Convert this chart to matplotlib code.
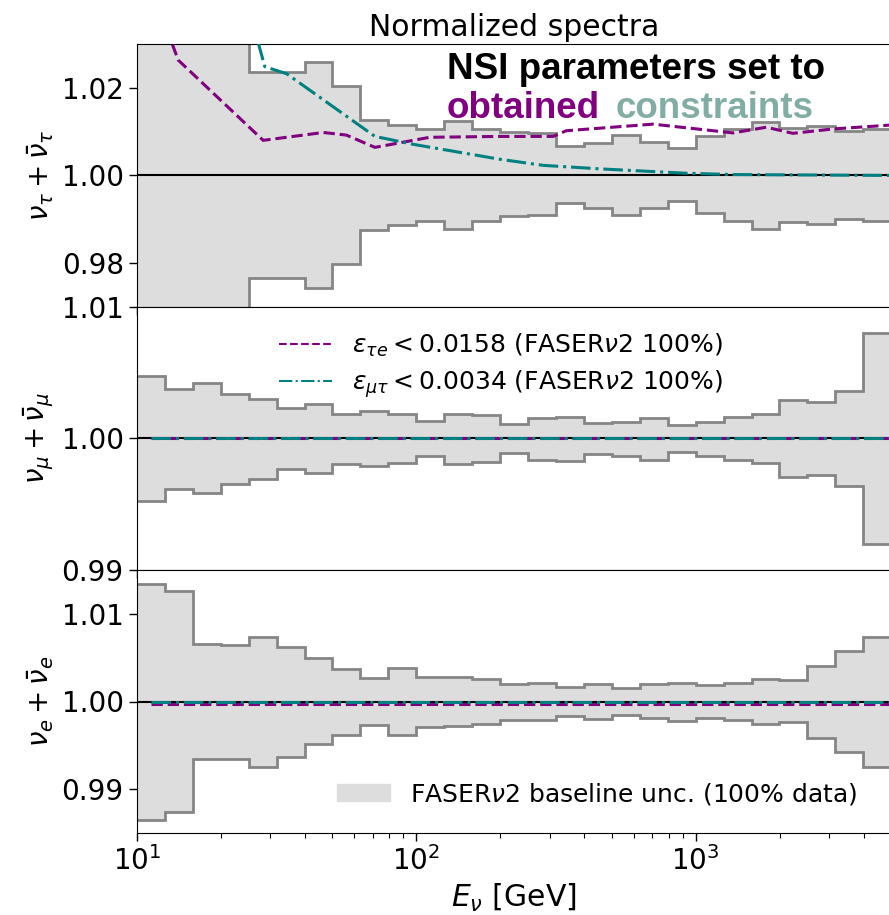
import numpy as np
import matplotlib
matplotlib.use("Agg")
import matplotlib.pyplot as plt
from matplotlib.lines import Line2D
from matplotlib.patches import Patch

# ---------------- data ----------------
bin_edges_log10 = np.round(np.arange(1.0, 3.70001, 0.1), 2)   # 27 bins, 10 GeV .. ~5 TeV

tau_upper = [1.060, 1.052, 1.046, 1.040, 1.0236, 1.0235, 1.0259, 1.0204, 1.0127, 1.0115,
             1.0107, 1.0125, 1.0107, 1.0098, 1.0096, 1.0067, 1.0075, 1.0092, 1.0077, 1.0063,
             1.0089, 1.0106, 1.0123, 1.0109, 1.0112, 1.0101, 1.0107]
tau_lower = [0.940, 0.948, 0.955, 0.962, 0.9767, 0.9765, 0.9744, 0.9799, 0.9876, 0.9887,
             0.9897, 0.9878, 0.9897, 0.9907, 0.9909, 0.9937, 0.9926, 0.9910, 0.9926, 0.9941,
             0.9914, 0.9897, 0.9877, 0.9894, 0.9890, 0.9900, 0.9897]

mu_upper = [1.00473, 1.00379, 1.00418, 1.00341, 1.00303, 1.00232, 1.00265, 1.00189, 1.00206,
            1.00189, 1.00132, 1.00189, 1.00176, 1.00112, 1.00158, 1.00163, 1.00117, 1.00125,
            1.00158, 1.00099, 1.00127, 1.00163, 1.00183, 1.00295, 1.00277, 1.00361, 1.00799]
mu_lower = [0.99527, 0.99616, 0.99583, 0.99654, 0.99692, 0.99768, 0.99735, 0.99807, 0.99794,
            0.99814, 0.99865, 0.99807, 0.99819, 0.99888, 0.99840, 0.99832, 0.99883, 0.99870,
            0.99840, 0.99896, 0.99870, 0.99840, 0.99812, 0.99705, 0.99725, 0.99641, 0.99201]

e_upper = [1.01341, 1.01264, 1.00657, 1.00646, 1.00740, 1.00626, 1.00493, 1.00372, 1.00270,
           1.00383, 1.00285, 1.00280, 1.00258, 1.00205, 1.00213, 1.00163, 1.00201, 1.00156,
           1.00194, 1.00213, 1.00190, 1.00216, 1.00258, 1.00247, 1.00410, 1.00573, 1.00740]
e_lower = [0.98653, 0.98740, 0.99339, 0.99347, 0.99252, 0.99366, 0.99510, 0.99620, 0.99727,
           0.99613, 0.99708, 0.99715, 0.99746, 0.99791, 0.99787, 0.99829, 0.99795, 0.99841,
           0.99810, 0.99776, 0.99810, 0.99787, 0.99738, 0.99765, 0.99587, 0.99423, 0.99252]

# NSI curves, nu_tau panel (x given as log10(E/GeV))
taue_tau_logE = [1.0, 1.10, 1.148, 1.452, 1.667, 1.750, 1.852, 2.048, 2.298, 2.490, 2.537,
                 2.847, 3.134, 3.253, 3.348, 3.491, 3.70]
taue_tau_val = [1.052, 1.0345, 1.0263, 1.0080, 1.0098, 1.0092, 1.0064, 1.0087, 1.0089, 1.0089,
                1.0102, 1.0117, 1.0097, 1.0110, 1.0096, 1.0106, 1.0115]
mutau_tau_logE = [1.40, 1.434, 1.458, 1.536, 1.852, 1.989, 2.298, 2.454, 2.657, 2.967, 3.134, 3.70]
mutau_tau_val = [1.0377, 1.0303, 1.0248, 1.0232, 1.0089, 1.0071, 1.0037, 1.0023, 1.0015,
                 1.0005, 1.0002, 1.0000]

# NSI curves in nu_mu and nu_e panels (flat)
flat_logE = [1.05, 3.70]
taue_mu_val = [1.0000, 1.0000]
mutau_mu_val = [1.0000, 1.0000]
taue_e_val = [0.99975, 0.99975]
mutau_e_val = [1.0000, 1.0000]

legend_labels = [r"$\varepsilon_{\tau e} < 0.0158$ (FASER$\nu$2 100%)",
                 r"$\varepsilon_{\mu\tau} < 0.0034$ (FASER$\nu$2 100%)"]
band_label = r"FASER$\nu$2 baseline unc. (100% data)"
ylabels = [r"$\nu_\tau + \bar{\nu}_\tau$", r"$\nu_\mu + \bar{\nu}_\mu$", r"$\nu_e + \bar{\nu}_e$"]
ylims = [(0.97, 1.03), (0.99, 1.01), (0.985, 1.015)]
yticks = [[0.98, 1.00, 1.02], [0.99, 1.00, 1.01], [0.99, 1.00, 1.01]]

# ---------------- style ----------------
PURPLE = "#800080"
TEAL = "#008080"
BAND = "#dddddd"
EDGE = "#858585"

plt.rcParams["font.family"] = ["DejaVu Sans"]
plt.rcParams["mathtext.fontset"] = "dejavusans"

fig = plt.figure(figsize=(8.89, 9.15), dpi=100)
gs = fig.add_gridspec(3, 1, left=0.154, right=1.0025, top=0.952, bottom=0.0896, hspace=0)
axes = [fig.add_subplot(gs[i]) for i in range(3)]

edges = 10 ** bin_edges_log10
bands = [(tau_upper, tau_lower), (mu_upper, mu_lower), (e_upper, e_lower)]

curves = [
    ((taue_tau_logE, taue_tau_val), (mutau_tau_logE, mutau_tau_val)),
    ((flat_logE, taue_mu_val), (flat_logE, mutau_mu_val)),
    ((flat_logE, taue_e_val), (flat_logE, mutau_e_val)),
]

for i, ax in enumerate(axes):
    up, lo = bands[i]
    ax.stairs(up, edges, baseline=lo, fill=True, color=BAND, lw=0, zorder=1)
    ax.stairs(up, edges, baseline=None, color=EDGE, lw=2.0, zorder=2)
    ax.stairs(lo, edges, baseline=None, color=EDGE, lw=2.0, zorder=2)
    ax.axhline(1.0, color="black", lw=1.5, zorder=3)
    (x1, y1), (x2, y2) = curves[i]
    ax.plot(10 ** np.array(x1), y1, color=PURPLE, ls="--", lw=2.2, zorder=4)
    ax.plot(10 ** np.array(x2), y2, color=TEAL, ls="-.", lw=2.2, zorder=5)

    ax.set_xscale("log")
    ax.set_xlim(10, 10 ** 3.7)
    ax.set_ylim(*ylims[i])
    ax.set_yticks(yticks[i])
    ax.set_yticklabels([f"{t:.2f}" for t in yticks[i]])
    ax.set_ylabel(ylabels[i], fontsize=20)
    ax.tick_params(axis="both", which="major", direction="out", length=6, width=1, labelsize=20)
    ax.tick_params(axis="both", which="minor", direction="out", length=3.5, width=0.8)
    if i < 2:
        ax.tick_params(axis="x", which="both", labelbottom=False)

axes[0].set_title("Normalized spectra", fontsize=21.5, pad=6)
axes[2].set_xlabel(r"$E_\nu$ [GeV]", fontsize=21.5)

# annotation in top panel
axes[0].text(0.411, 0.865, "NSI parameters set to", transform=axes[0].transAxes,
             fontsize=26.5, fontweight="bold", family="Liberation Sans", color="black",
             ha="left", va="baseline", zorder=6)
axes[0].text(0.411, 0.720, "obtained", transform=axes[0].transAxes,
             fontsize=26.5, fontweight="bold", family="Liberation Sans", color=PURPLE,
             ha="left", va="baseline", zorder=6)
axes[0].text(0.634, 0.720, "constraints", transform=axes[0].transAxes,
             fontsize=26.5, fontweight="bold", family="Liberation Sans", color="#82ADA5",
             ha="left", va="baseline", zorder=6)

# legends
handles = [Line2D([], [], color=PURPLE, ls="--", lw=1.5),
           Line2D([], [], color=TEAL, ls="-.", lw=1.5)]
axes[1].legend(handles, legend_labels, loc="upper left", bbox_to_anchor=(0.159, 0.99),
               frameon=False, fontsize=18, handlelength=2.1, labelspacing=0.35)
axes[2].legend([Patch(color=BAND)], [band_label], loc="lower right",
               bbox_to_anchor=(0.985, 0.015), frameon=False, fontsize=18, handlelength=2.1)

fig.savefig("out.png", dpi=100)
